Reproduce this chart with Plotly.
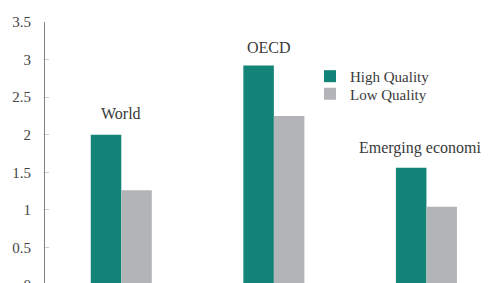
import plotly.graph_objects as go

categories = ["World", "OECD", "Emerging economies"]
high_quality = [2.0, 2.92, 1.56]
low_quality = [1.26, 2.25, 1.04]
y_ticks = [0, 0.5, 1, 1.5, 2, 2.5, 3, 3.5]
label_heights = [2.28, 3.16, 1.82]
label_xshift = [0, -5, 0]

TEAL = "#138578"
GRAY = "#b2b4b7"
FONT = "Liberation Serif"
TEXT = "#3a3a3a"

# The page body adds an 8px offset; the figure is sized to compensate.
OFF = 8
W, H = 489 - OFF, 285 - OFF
ML, MT = 45 - OFF, 21.5 - OFF

fig = go.Figure()
fig.add_trace(go.Bar(x=categories, y=high_quality, name="High Quality",
                     legend="legend",
                     marker=dict(color=TEAL, line=dict(width=0))))
fig.add_trace(go.Bar(x=categories, y=low_quality, name="Low Quality",
                     legend="legend2",
                     marker=dict(color=GRAY, line=dict(width=0))))

for c, h, dx in zip(categories, label_heights, label_xshift):
    fig.add_annotation(x=c, y=h, text=c, showarrow=False, xshift=dx,
                       font=dict(family=FONT, size=16, color=TEXT),
                       xanchor="center", yanchor="middle")

plot_w = W - ML
plot_h = H - MT

def legend_at(px, py):
    return dict(x=(px - 45) / plot_w, y=(284.5 - py) / plot_h,
                xanchor="left", yanchor="top",
                font=dict(family=FONT, size=15, color=TEXT),
                bgcolor="rgba(0,0,0,0)", itemwidth=30)

fig.update_layout(
    width=W, height=H,
    margin=dict(l=ML, r=0, t=MT, b=0, autoexpand=False),
    paper_bgcolor="white", plot_bgcolor="white",
    barmode="group", bargap=0.6, bargroupgap=0,
    font=dict(family=FONT, size=15, color=TEXT),
    showlegend=True,
    legend=legend_at(310, 59),
    legend2=legend_at(310, 76.7),
    xaxis=dict(type="category", range=[-0.5, 2.41], showticklabels=False,
               showline=False, showgrid=False, ticks="", zeroline=False,
               automargin=False),
    yaxis=dict(range=[0, 3.5], tickvals=y_ticks,
               ticktext=[("%g" % v) for v in y_ticks],
               showline=True, linecolor="#808080", linewidth=1,
               ticks="inside", ticklen=4, tickcolor="#cccccc",
               showgrid=False, zeroline=False, automargin=False,
               ticklabeloverflow="allow", ticklabelstandoff=10,
               tickfont=dict(family=FONT, size=15, color="#444444")),
)

fig.write_html("out.html")
